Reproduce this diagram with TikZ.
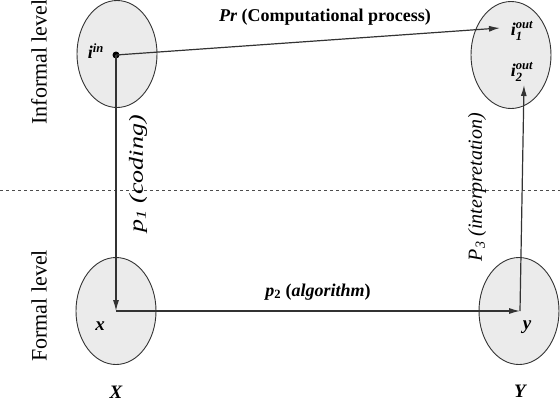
\documentclass[tikz,border=0pt]{standalone}
\usepackage{amsmath}
\usepackage{fontspec}
\setmainfont{Liberation Serif}
\usetikzlibrary{shapes.geometric,arrows.meta}
\begin{document}
\begin{tikzpicture}[x=1pt,y=-1pt,
  setbox/.style={ellipse,draw=black!80,line width=0.9pt,fill=black!8,minimum width=80pt,minimum height=107pt,inner sep=0pt},
  flow/.style={draw=black!80,line width=1.2pt,-{Latex[length=11pt,width=6pt]}},
  lbl/.style={font=\fontsize{18}{20}\selectfont\bfseries,inner sep=1pt},
  rlbl/.style={font=\fontsize{20}{22}\selectfont\itshape,rotate=90,inner sep=1pt},
  lvl/.style={font=\fontsize{22}{24}\selectfont,rotate=90,inner sep=1pt},
  mvar/.style={font=\fontsize{18}{20}\selectfont\bfseries\itshape,inner sep=1pt},
  bvar/.style={font=\fontsize{19}{21}\selectfont\bfseries\itshape,inner sep=1pt}]
\useasboundingbox (0,0) rectangle (560,407);
\draw[dashed,black!70,line width=0.6pt] (0,190) -- (560,190);
\node[setbox] (LT) at (117,54) {};
\node[setbox] (RT) at (511,55) {};
\node[setbox] (LB) at (116,311) {};
\node[setbox] (RB) at (519,311) {};
\node[circle,fill=black,inner sep=0pt,minimum size=7pt] (dot) at (116,55) {};
\coordinate (c1) at (116,311);
\coordinate (c2) at (520,311);
\coordinate (t1) at (500,28);
\coordinate (t2) at (524,85);
\draw[flow] (dot.center) -- (t1);
\draw[flow] (dot.center) -- (c1);
\draw[flow] (c1) -- (c2);
\draw[flow] (c2) -- (t2);
\node[mvar] (iin) at (96,51) {i$^{\text{in}}$};
\node[mvar] (i1) at (522,31) {i$_{\text{1}}^{\text{out}}$};
\node[mvar] (i2) at (522,72) {i$_{\text{2}}^{\text{out}}$};
\node[bvar] (xl) at (100,326) {x};
\node[bvar] (yl) at (527,327) {y};
\node[bvar] (XL) at (116,392) {X};
\node[bvar] (YL) at (520,391) {Y};
\node[lbl] (pr) at (325,17) {\textit{Pr} (Computational process)};
\node[lbl] (p2) at (318,292) {\textit{p}\textsubscript{2} (\textit{algorithm})};
\node[rlbl] (p1) at (138,174) {\scalebox{1.3}[1]{p\textsubscript{1} (coding)}};
\node[rlbl] (p3) at (477,187) {P\textsubscript{3} (interpretation)};
\node[lvl] (inf) at (39,62) {Informal level};
\node[lvl] (form) at (39,306) {Formal level};
\end{tikzpicture}
\end{document}
